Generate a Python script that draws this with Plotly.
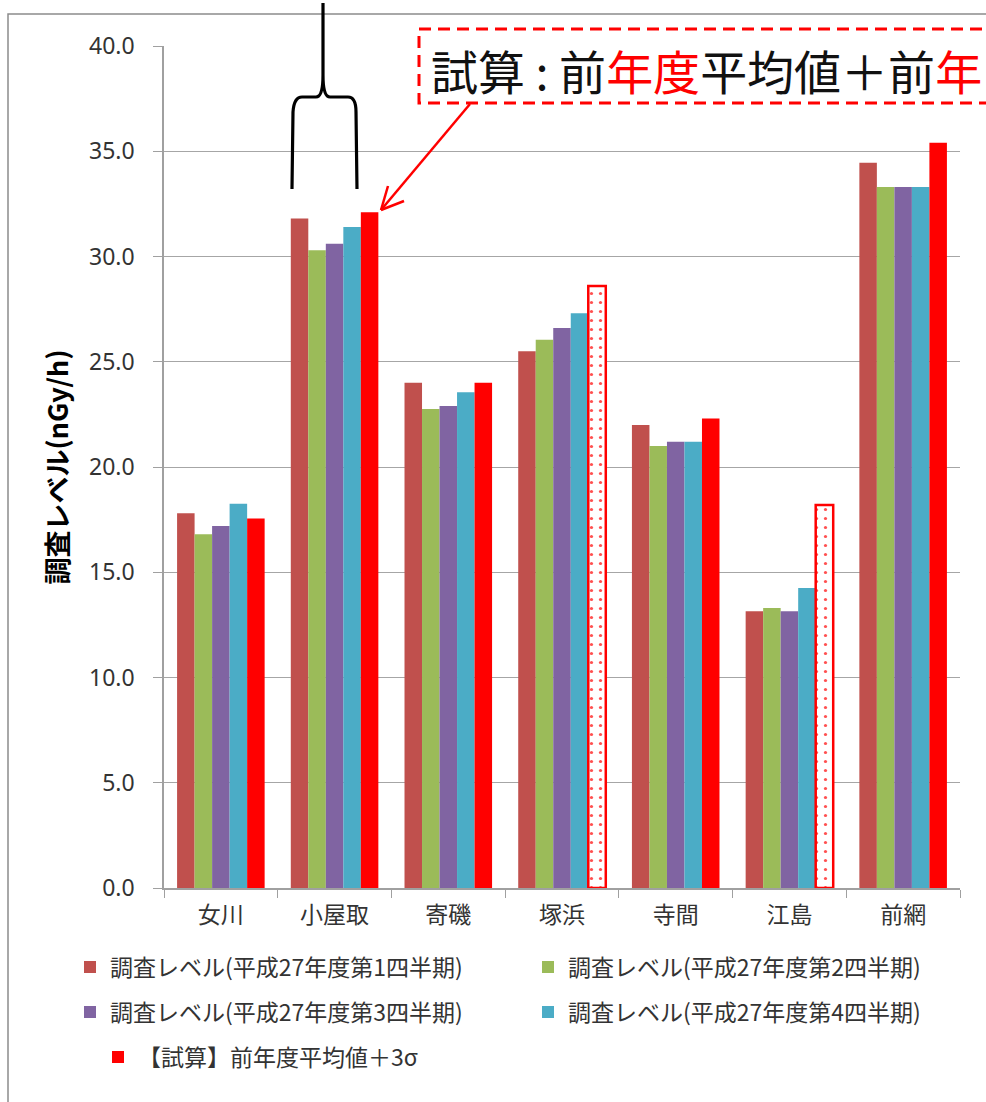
import plotly.graph_objects as go

# Canvas and plot-area geometry (pixels)
W, H = 986, 1102
ML, MR, MT, MB = 164, 26, 46, 214

CJK = "Noto Sans CJK JP"

# Monitoring sites
sites = ["女川", "小屋取", "寄磯", "塚浜", "寺間", "江島", "前網"]

# Survey levels (nGy/h) for each quarter of FY H27
q1 = [17.8, 31.8, 24.0, 25.5, 22.0, 13.15, 34.45]
q2 = [16.8, 30.3, 22.75, 26.05, 21.0, 13.3, 33.3]
q3 = [17.2, 30.6, 22.9, 26.6, 21.2, 13.15, 33.3]
q4 = [18.25, 31.4, 23.55, 27.3, 21.2, 14.25, 33.3]
# Trial value: previous-year mean + 3 sigma
sigma3 = [17.55, 32.1, 24.0, 28.6, 22.3, 18.2, 35.4]
# Sites whose trial bar is drawn hollow with a dot fill
sigma3_shape = ["", "", "", ".", "", ".", ""]

names = [
    "調査レベル(平成27年度第1四半期)",
    "調査レベル(平成27年度第2四半期)",
    "調査レベル(平成27年度第3四半期)",
    "調査レベル(平成27年度第4四半期)",
    "【試算】前年度平均値＋3σ",
]
colors = ["#C0504D", "#9BBB59", "#8064A2", "#4BACC6", "#FF0000"]
legend_ids = ["legend", "legend", "legend2", "legend2", "legend3"]

y_ticks = [0, 5, 10, 15, 20, 25, 30, 35, 40]


def px(x):
    return (x - ML) / (W - ML - MR)


def py(y):
    return (H - MB - y) / (H - MT - MB)


fig = go.Figure()
for vals, name, col, leg in zip([q1, q2, q3, q4], names[:4], colors[:4], legend_ids[:4]):
    fig.add_trace(go.Bar(
        x=sites, y=vals, name=name, legend=leg,
        marker=dict(color=col, line=dict(width=0)),
    ))

fig.add_trace(go.Bar(
    x=sites, y=sigma3, name=names[4], legend=legend_ids[4],
    marker=dict(
        color=colors[4],
        line=dict(color="#FF0000", width=[2.5 if s else 0 for s in sigma3_shape]),
        pattern=dict(shape=sigma3_shape, fgcolor="#FF5050", bgcolor="white",
                     size=9, solidity=0.1, fillmode="replace"),
    ),
))

leg_common = dict(
    orientation="h", xanchor="left", yanchor="middle", x=px(98),
    entrywidth=413, entrywidthmode="pixels",
    font=dict(family=CJK, size=23, color="#333333"),
    bgcolor="rgba(0,0,0,0)", traceorder="normal",
)

shapes = [
    # outer frame
    dict(type="rect", xref="paper", yref="paper", layer="below",
         x0=px(8), x1=px(1010), y0=py(14), y1=py(1120),
         line=dict(color="#8c8c8c", width=1.5), fillcolor="rgba(0,0,0,0)"),
    # dashed callout box
    dict(type="rect", xref="paper", yref="paper",
         x0=px(419), x1=px(1010), y0=py(29), y1=py(103),
         line=dict(color="#FF0000", width=3, dash="12px,7px"),
         fillcolor="white"),
]

# brace over the four quarterly bars of 小屋取
brace_pts = [
    ("M", 292, 189), ("L", 293, 112), ("Q", 294, 97, 302, 97), ("L", 316, 97),
    ("Q", 323, 97, 323, 75), ("L", 323, 3), ("M", 323, 75),
    ("Q", 323, 97, 330, 97), ("L", 348, 97), ("Q", 356, 97, 356, 112), ("L", 357, 189),
]
path = ""
for p in brace_pts:
    cmd, coords = p[0], p[1:]
    pairs = [f"{px(coords[i]):.5f},{py(coords[i + 1]):.5f}" for i in range(0, len(coords), 2)]
    path += cmd + " ".join(pairs) + " "
shapes.append(dict(type="path", xref="paper", yref="paper", path=path.strip(),
                   line=dict(color="black", width=3.2)))

# arrow from the callout box to the 小屋取 trial bar
tail = (470, 104)
tip = (381, 210)
shapes.append(dict(type="line", xref="paper", yref="paper",
                   x0=px(tail[0]), y0=py(tail[1]), x1=px(tip[0]), y1=py(tip[1]),
                   line=dict(color="#FF0000", width=2.5)))
for arm in [(404, 201), (388, 186)]:
    shapes.append(dict(type="line", xref="paper", yref="paper",
                       x0=px(tip[0]), y0=py(tip[1]), x1=px(arm[0]), y1=py(arm[1]),
                       line=dict(color="#FF0000", width=2.5)))

red = '<span style="color:#FF0000">'
callout = f"試算 : 前{red}年度</span>平均値＋前{red}年</span>"

fig.update_layout(
    width=W, height=H,
    margin=dict(l=ML, r=MR, t=MT, b=MB),
    paper_bgcolor="white", plot_bgcolor="white",
    barmode="group", bargap=0.23, bargroupgap=0,
    legend=dict(leg_common, y=py(967)),
    legend2=dict(leg_common, y=py(1012)),
    legend3=dict(leg_common, y=py(1057)),
    xaxis=dict(
        type="category", showline=True, linecolor="#a0a0a0", linewidth=1.5,
        ticks="outside", tickson="boundaries", ticklen=8, tickcolor="#a0a0a0",
        ticklabelstandoff=6,
        tickfont=dict(family=CJK, size=23, color="#333333"),
        showgrid=False,
    ),
    yaxis=dict(
        range=[0, 40], tickvals=y_ticks, tickformat=".1f",
        showline=True, linecolor="#a0a0a0", linewidth=1.5,
        ticks="outside", ticklen=9, tickcolor="#a0a0a0",
        ticklabelstandoff=14,
        tickfont=dict(family="Noto Sans", size=23, color="#333333"),
        showgrid=True, gridcolor="#a6a6a6", gridwidth=1.3, zeroline=False,
        title=dict(text="調査レベル(nGy/h)", standoff=13,
                   font=dict(family=CJK, size=27, color="black", weight="bold")),
    ),
    shapes=shapes,
    annotations=[
        dict(xref="paper", yref="paper", x=px(429), y=py(70),
             xanchor="left", yanchor="middle", showarrow=False,
             text=callout, font=dict(family=CJK, size=47, color="#111111")),
    ],
)

fig.write_html("out.html")
